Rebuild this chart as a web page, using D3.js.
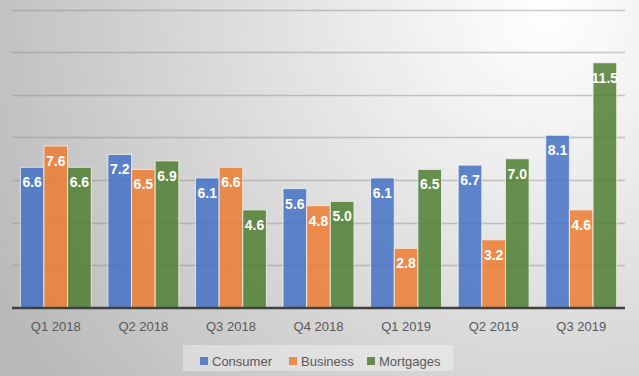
<!DOCTYPE html>
<html>
<head>
<meta charset="utf-8">
<script src="https://cdn.jsdelivr.net/npm/d3@7"></script>
<style>
  body { margin: 0; overflow: hidden; }
  svg { display: block; }
</style>
</head>
<body>
<script>
var width = 639,
    height = 376;

var quarters = ["Q1 2018", "Q2 2018", "Q3 2018", "Q4 2018", "Q1 2019", "Q2 2019", "Q3 2019"];
var seriesNames = ["Consumer", "Business", "Mortgages"];
var consumer = [6.6, 7.2, 6.1, 5.6, 6.1, 6.7, 8.1];
var business = [7.6, 6.5, 6.6, 4.8, 2.8, 3.2, 4.6];
var mortgages = [6.6, 6.9, 4.6, 5.0, 6.5, 7.0, 11.5];
var gridTicks = [2, 4, 6, 8, 10, 12, 14];

var colors = ["#4472C4", "#ED7D31", "#4f7f33"];
var values = [consumer, business, mortgages];

var svg = d3.select("body").append("svg")
    .attr("width", width)
    .attr("height", height);

var defs = svg.append("defs");
var grad = defs.append("radialGradient")
    .attr("id", "bg")
    .attr("gradientUnits", "userSpaceOnUse")
    .attr("cx", 545).attr("cy", 10).attr("r", 620);
grad.append("stop").attr("offset", "0").attr("stop-color", "#ffffff");
grad.append("stop").attr("offset", "0.3").attr("stop-color", "#ebebeb");
grad.append("stop").attr("offset", "1").attr("stop-color", "#b9b9b9");

svg.append("rect")
    .attr("width", width)
    .attr("height", height)
    .attr("fill", "url(#bg)");

var x0 = d3.scaleBand()
    .domain(quarters)
    .range([12, 625])
    .paddingInner(0.19)
    .paddingOuter(0.095);

var x1 = d3.scaleBand()
    .domain(seriesNames)
    .range([0, x0.bandwidth()]);

var y = d3.scaleLinear()
    .domain([0, 14])
    .range([308, 9.5]);

// gridlines
svg.append("g").selectAll("line")
    .data(gridTicks)
    .enter().append("line")
    .attr("x1", 12).attr("x2", 625)
    .attr("y1", d => Math.round(y(d)) + 0.5)
    .attr("y2", d => Math.round(y(d)) + 0.5)
    .attr("stroke", "#8c8c8c")
    .attr("stroke-opacity", 0.45)
    .attr("stroke-width", 1.5);

var rows = [];
quarters.forEach(function(q, i) {
    seriesNames.forEach(function(s, j) {
        rows.push({ q: q, s: s, v: values[j][i], c: colors[j] });
    });
});

var groups = svg.append("g");

groups.selectAll("rect")
    .data(rows)
    .enter().append("rect")
    .attr("x", d => x0(d.q) + x1(d.s))
    .attr("y", d => y(d.v))
    .attr("width", x1.bandwidth())
    .attr("height", d => y(0) - y(d.v))
    .attr("fill", d => d.c)
    .attr("fill-opacity", 0.85)
    .attr("stroke", "#f2f2f2")
    .attr("stroke-opacity", 0.8)
    .attr("stroke-width", 1);

groups.selectAll("text")
    .data(rows)
    .enter().append("text")
    .attr("x", d => x0(d.q) + x1(d.s) + x1.bandwidth() / 2)
    .attr("y", d => y(d.v) + 20)
    .attr("text-anchor", "middle")
    .attr("fill", "#ffffff")
    .style("font-family", "'Liberation Sans', Arial, sans-serif")
    .style("font-weight", "bold")
    .style("font-size", "14px")
    .text(d => d.v.toFixed(1));

// baseline axis
var xAxis = d3.axisBottom(x0).tickSize(0).tickPadding(14);
var ax = svg.append("g")
    .attr("transform", "translate(0," + y(0) + ")")
    .call(xAxis);
ax.select(".domain")
    .attr("d", "M12,0H625")
    .attr("stroke", "#404040")
    .attr("stroke-width", 2.5);
ax.selectAll("text")
    .attr("fill", "#595959")
    .style("font-family", "'Liberation Sans', Arial, sans-serif")
    .style("font-size", "13px");

// legend
var legend = svg.append("g");
legend.append("rect")
    .attr("x", 183).attr("y", 345)
    .attr("width", 270).attr("height", 26)
    .attr("fill", "#ffffff")
    .attr("fill-opacity", 0.35);

var legendX = [200, 289, 367];
var items = legend.selectAll(".item")
    .data(seriesNames)
    .enter().append("g")
    .attr("class", "item")
    .attr("transform", (d, i) => "translate(" + legendX[i] + ",357)");
items.append("rect")
    .attr("width", 8).attr("height", 8)
    .attr("fill", (d, i) => colors[i])
    .attr("fill-opacity", 0.85);
items.append("text")
    .attr("x", 12).attr("y", 8.5)
    .attr("fill", "#595959")
    .style("font-family", "'Liberation Sans', Arial, sans-serif")
    .style("font-size", "13px")
    .text(d => d);
</script>
</body>
</html>
